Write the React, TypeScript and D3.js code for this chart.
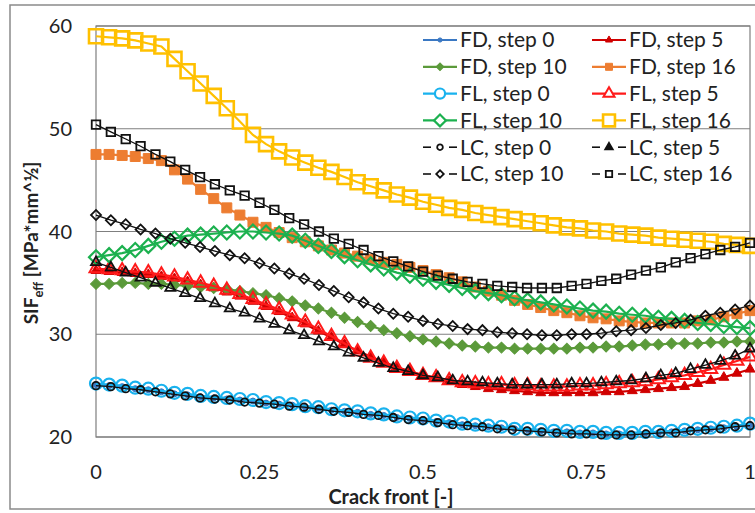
import React, { useEffect, useRef } from 'react';
import * as d3 from 'd3';

const W = 755;
const H = 513;

// FD / FL series: 51 points along the crack front, LC series: 45 points
const fdStep0 = [25.1, 25.0, 24.9, 24.7, 24.6, 24.4, 24.2, 24.1, 23.9, 23.8, 23.7, 23.6, 23.5, 23.3, 23.2, 23.1, 22.9, 22.8, 22.6, 22.5, 22.4, 22.2, 22.1, 21.9, 21.8, 21.7, 21.5, 21.4, 21.2, 21.1, 21.0, 20.9, 20.8, 20.7, 20.6, 20.5, 20.5, 20.4, 20.4, 20.3, 20.3, 20.3, 20.4, 20.4, 20.5, 20.6, 20.7, 20.8, 20.9, 21.0, 21.2];
const fdStep5 = [36.2, 36.1, 36.0, 35.9, 35.8, 35.6, 35.4, 35.1, 34.8, 34.5, 34.1, 33.7, 33.2, 32.7, 32.2, 31.6, 31.0, 30.3, 29.7, 29.0, 28.4, 27.8, 27.3, 26.8, 26.4, 26.0, 25.7, 25.4, 25.1, 24.9, 24.7, 24.6, 24.5, 24.4, 24.3, 24.3, 24.3, 24.3, 24.3, 24.4, 24.4, 24.5, 24.6, 24.7, 24.8, 24.9, 25.2, 25.5, 25.8, 26.2, 26.6];
const fdStep10 = [34.9, 34.9, 35.0, 35.0, 34.9, 34.9, 34.8, 34.7, 34.6, 34.5, 34.4, 34.2, 34.0, 33.8, 33.5, 33.2, 32.8, 32.5, 32.1, 31.6, 31.2, 30.8, 30.4, 30.1, 29.8, 29.5, 29.3, 29.1, 28.9, 28.8, 28.7, 28.7, 28.6, 28.6, 28.6, 28.6, 28.6, 28.7, 28.7, 28.8, 28.8, 28.9, 29.0, 29.0, 29.1, 29.1, 29.1, 29.2, 29.2, 29.3, 29.3];
const fdStep16 = [47.5, 47.5, 47.4, 47.3, 47.1, 46.9, 46.0, 45.1, 44.1, 43.2, 42.3, 41.6, 40.9, 40.4, 39.9, 39.4, 39.0, 38.6, 38.2, 37.9, 37.6, 37.3, 37.0, 36.8, 36.5, 36.2, 35.8, 35.5, 35.1, 34.6, 34.2, 33.8, 33.3, 32.9, 32.6, 32.3, 32.1, 31.8, 31.6, 31.5, 31.3, 31.2, 31.1, 31.1, 31.1, 31.1, 31.3, 31.4, 31.7, 32.0, 32.3];

const flStep0 = [25.2, 25.1, 25.0, 24.8, 24.7, 24.5, 24.3, 24.2, 24.0, 23.9, 23.8, 23.7, 23.6, 23.4, 23.3, 23.2, 23.0, 22.9, 22.7, 22.6, 22.5, 22.3, 22.2, 22.0, 21.9, 21.8, 21.6, 21.5, 21.3, 21.2, 21.1, 21.0, 20.8, 20.8, 20.7, 20.6, 20.6, 20.5, 20.5, 20.4, 20.4, 20.4, 20.5, 20.5, 20.6, 20.7, 20.8, 20.9, 21.0, 21.1, 21.3];
const flStep5 = [36.4, 36.3, 36.2, 36.1, 36.0, 35.8, 35.6, 35.3, 35.0, 34.7, 34.3, 33.9, 33.4, 32.9, 32.4, 31.9, 31.2, 30.5, 29.8, 29.1, 28.3, 27.7, 27.2, 26.7, 26.4, 26.0, 25.8, 25.5, 25.3, 25.2, 25.1, 25.1, 25.0, 25.0, 24.9, 24.9, 24.9, 25.0, 25.0, 25.1, 25.2, 25.3, 25.4, 25.6, 25.8, 26.0, 26.3, 26.6, 27.0, 27.4, 27.8];
const flStep10 = [37.5, 37.7, 37.9, 38.2, 38.6, 39.0, 39.3, 39.6, 39.7, 39.8, 39.9, 40.0, 40.0, 39.9, 39.8, 39.6, 39.1, 38.6, 38.1, 37.6, 37.2, 36.8, 36.4, 36.0, 35.7, 35.4, 35.1, 34.8, 34.5, 34.2, 34.0, 33.8, 33.5, 33.3, 33.1, 32.9, 32.7, 32.5, 32.3, 32.2, 32.0, 31.9, 31.8, 31.6, 31.5, 31.3, 31.1, 31.0, 30.8, 30.7, 30.6];
const flStep16 = [59.0, 58.9, 58.8, 58.6, 58.3, 58.0, 56.8, 55.6, 54.4, 53.2, 52.0, 50.7, 49.4, 48.5, 47.8, 47.2, 46.7, 46.2, 45.8, 45.3, 44.8, 44.4, 44.0, 43.6, 43.3, 42.9, 42.6, 42.3, 42.1, 41.8, 41.6, 41.4, 41.2, 41.0, 40.8, 40.6, 40.4, 40.3, 40.1, 40.0, 39.8, 39.7, 39.6, 39.4, 39.3, 39.2, 39.1, 39.0, 38.8, 38.7, 38.6];

const lcStep0 = [25.0, 24.9, 24.7, 24.6, 24.4, 24.2, 24.0, 23.8, 23.7, 23.6, 23.4, 23.3, 23.2, 23.0, 22.9, 22.7, 22.5, 22.4, 22.2, 22.1, 21.9, 21.7, 21.6, 21.4, 21.2, 21.1, 21.0, 20.8, 20.7, 20.6, 20.5, 20.4, 20.3, 20.3, 20.2, 20.2, 20.2, 20.3, 20.4, 20.4, 20.6, 20.7, 20.8, 21.0, 21.1];
const lcStep5 = [37.0, 36.5, 36.0, 35.5, 35.0, 34.5, 34.0, 33.5, 33.0, 32.5, 32.1, 31.5, 31.0, 30.4, 29.9, 29.3, 28.8, 28.2, 27.7, 27.2, 26.7, 26.4, 26.0, 25.8, 25.5, 25.4, 25.3, 25.2, 25.1, 25.1, 25.1, 25.1, 25.2, 25.2, 25.3, 25.4, 25.5, 25.7, 26.0, 26.2, 26.6, 27.0, 27.4, 27.9, 28.6];
const lcStep10 = [41.6, 41.1, 40.7, 40.2, 39.8, 39.3, 38.9, 38.5, 38.1, 37.7, 37.4, 36.9, 36.4, 35.9, 35.4, 34.8, 34.2, 33.6, 33.1, 32.5, 32.0, 31.7, 31.3, 31.0, 30.8, 30.5, 30.4, 30.2, 30.1, 30.0, 29.9, 29.9, 30.0, 30.0, 30.1, 30.3, 30.4, 30.6, 30.9, 31.1, 31.4, 31.8, 32.1, 32.4, 32.8];
const lcStep16 = [50.4, 49.7, 49.0, 48.3, 47.5, 46.8, 46.0, 45.3, 44.6, 44.0, 43.5, 42.8, 42.1, 41.3, 40.7, 40.0, 39.3, 38.8, 38.2, 37.6, 37.1, 36.6, 36.1, 35.7, 35.4, 35.1, 34.9, 34.7, 34.6, 34.5, 34.5, 34.5, 34.7, 34.9, 35.2, 35.4, 35.8, 36.2, 36.5, 37.0, 37.4, 37.8, 38.2, 38.5, 38.9];

const seriesNames = [
  'FD, step 0', 'FD, step 5', 'FD, step 10', 'FD, step 16',
  'FL, step 0', 'FL, step 5', 'FL, step 10', 'FL, step 16',
  'LC, step 0', 'LC, step 5', 'LC, step 10', 'LC, step 16',
];
const seriesValues = [
  fdStep0, fdStep5, fdStep10, fdStep16,
  flStep0, flStep5, flStep10, flStep16,
  lcStep0, lcStep5, lcStep10, lcStep16,
];

const xTicks = [0, 0.25, 0.5, 0.75, 1];
const xTickLabels = ['0', '0.25', '0.5', '0.75', '1'];
const yTicks = [20, 30, 40, 50, 60];

// look of each series (same order as seriesNames)
const looks = [
  { color: '#3a78c3', shape: 'circle', size: 6, fill: true, lw: 2.2, sw: 1 },
  { color: '#d00000', shape: 'triangle', size: 10, fill: true, lw: 2.2, sw: 1 },
  { color: '#5b9a3a', shape: 'diamond', size: 11, fill: true, lw: 2.2, sw: 1 },
  { color: '#ed7d31', shape: 'square', size: 10, fill: true, lw: 2.2, sw: 1 },
  { color: '#19b2ee', shape: 'circle', size: 12, fill: false, lw: 2.2, sw: 2.2 },
  { color: '#ff1a1a', shape: 'triangle', size: 13, fill: false, lw: 2.2, sw: 2 },
  { color: '#1cb14f', shape: 'diamond', size: 14, fill: false, lw: 2.2, sw: 2.2 },
  { color: '#ffc000', shape: 'square', size: 14, fill: false, lw: 2.2, sw: 2.6 },
  { color: '#111111', shape: 'circle', size: 7.5, fill: false, lw: 1.3, sw: 1.8 },
  { color: '#111111', shape: 'triangle', size: 10, fill: false, lw: 1.3, sw: 1.8 },
  { color: '#111111', shape: 'diamond', size: 10, fill: false, lw: 1.3, sw: 1.8 },
  { color: '#111111', shape: 'square', size: 8.5, fill: false, lw: 1.3, sw: 1.8 },
];

const FONT = 'Lato, "Open Sans", sans-serif';

const markerPath = (shape: string, size: number) => {
  if (shape === 'circle') return d3.symbol(d3.symbolCircle, Math.PI * (size / 2) ** 2)()!;
  if (shape === 'triangle') return d3.symbol(d3.symbolTriangle, 0.433 * size * size)()!;
  if (shape === 'diamond') return d3.symbol(d3.symbolSquare, (size * size) / 2)()!;
  return d3.symbol(d3.symbolSquare, size * size)()!;
};

const drawChart = (node: SVGSVGElement) => {
  const svg = d3.select(node);
  svg.selectAll('*').remove();

  const x = d3.scaleLinear().domain([0, 1]).range([96, 750]);
  const y = d3.scaleLinear().domain([20, 60]).range([437, 26]);

  svg.append('rect').attr('width', W).attr('height', H).attr('fill', '#fff');
  // chart border
  svg.append('rect')
    .attr('x', 10).attr('y', 5).attr('width', 760).attr('height', 504)
    .attr('fill', 'none').attr('stroke', '#8a8a8a').attr('stroke-width', 1.5);

  // gridlines
  svg.append('g').selectAll('line')
    .data(yTicks)
    .enter()
    .append('line')
    .attr('x1', x(0)).attr('x2', x(1))
    .attr('y1', d => y(d)).attr('y2', d => y(d))
    .attr('stroke', '#7f7f7f').attr('stroke-width', 1.2);

  // plot area border
  svg.append('rect')
    .attr('x', x(0)).attr('y', y(60))
    .attr('width', x(1) - x(0)).attr('height', y(20) - y(60))
    .attr('fill', 'none').attr('stroke', '#7f7f7f').attr('stroke-width', 1.2);

  // series
  const line = d3.line<[number, number]>().x(d => x(d[0])).y(d => y(d[1]));
  seriesValues.forEach((vals, i) => {
    const look = looks[i];
    const pts: [number, number][] = vals.map((v, j) => [j / (vals.length - 1), v]);
    const g = svg.append('g');
    g.append('path')
      .attr('d', line(pts))
      .attr('fill', 'none')
      .attr('stroke', look.color)
      .attr('stroke-width', look.lw);
    const p = markerPath(look.shape, look.size);
    g.selectAll('path.m')
      .data(pts)
      .enter()
      .append('path')
      .attr('class', 'm')
      .attr('d', p)
      .attr('transform', d => `translate(${x(d[0])},${y(d[1])})${look.shape === 'diamond' ? ' rotate(45)' : ''}`)
      .attr('fill', look.fill ? look.color : 'none')
      .attr('stroke', look.color)
      .attr('stroke-width', look.sw);
  });

  // tick labels
  svg.append('g').selectAll('text')
    .data(yTicks)
    .enter()
    .append('text')
    .attr('x', 72).attr('y', d => y(d))
    .attr('dy', '0.35em')
    .attr('text-anchor', 'end')
    .style('font-family', FONT).style('font-size', '20px').attr('fill', '#222')
    .text(d => d);

  svg.append('g').selectAll('text')
    .data(xTicks)
    .enter()
    .append('text')
    .attr('x', d => x(d)).attr('y', 472)
    .attr('dy', '0.35em')
    .attr('text-anchor', 'middle')
    .style('font-family', FONT).style('font-size', '20px').attr('fill', '#222')
    .text((d, i) => xTickLabels[i]);

  // axis titles
  svg.append('text')
    .attr('x', 391).attr('y', 497).attr('dy', '0.35em')
    .attr('text-anchor', 'middle')
    .style('font-family', FONT).style('font-size', '20px').style('font-weight', 'bold')
    .attr('fill', '#222')
    .text('Crack front [-]');

  const yt = svg.append('text')
    .attr('transform', 'translate(31,243) rotate(-90)')
    .attr('dy', '0.35em')
    .attr('text-anchor', 'middle')
    .style('font-family', FONT).style('font-size', '19px').style('font-weight', 'bold')
    .attr('fill', '#222');
  yt.append('tspan').text('SIF');
  yt.append('tspan').attr('dy', 5).style('font-size', '13px').text('eff');
  yt.append('tspan').attr('dy', -5).text(' [MPa*mm^½]');

  // legend
  const leg = svg.append('g');
  seriesNames.forEach((name, i) => {
    const look = looks[i];
    const col = i % 2;
    const row = Math.floor(i / 2);
    const lx = col === 0 ? 423 : 592;
    const ly = 40 + row * 26.8;
    if (i < 8) {
      leg.append('line')
        .attr('x1', lx).attr('x2', lx + 34).attr('y1', ly).attr('y2', ly)
        .attr('stroke', look.color).attr('stroke-width', look.lw);
    } else {
      [[lx, lx + 8], [lx + 26, lx + 34]].forEach(([a, b]) => {
        leg.append('line')
          .attr('x1', a).attr('x2', b).attr('y1', ly).attr('y2', ly)
          .attr('stroke', look.color).attr('stroke-width', 1.6);
      });
    }
    const s = i < 4 ? look.size * 0.7 : i < 8 ? look.size * 0.85 : look.size * 0.75;
    leg.append('path')
      .attr('d', markerPath(look.shape, s))
      .attr('transform', `translate(${lx + 17},${ly})${look.shape === 'diamond' ? ' rotate(45)' : ''}`)
      .attr('fill', look.fill || i === 9 ? look.color : '#fff')
      .attr('stroke', look.color)
      .attr('stroke-width', look.sw);
    leg.append('text')
      .attr('x', lx + 37).attr('y', ly).attr('dy', '0.35em')
      .style('font-family', FONT).style('font-size', '21px').attr('fill', '#222')
      .text(name);
  });
};

const App = () => {
  const ref = useRef<SVGSVGElement>(null);

  useEffect(() => {
    if (ref.current) drawChart(ref.current);
  }, []);

  return (
    <svg
      ref={ref}
      width={W}
      height={H}
      style={{ position: 'absolute', left: 0, top: 0, display: 'block' }}
    />
  );
};

export default App;
